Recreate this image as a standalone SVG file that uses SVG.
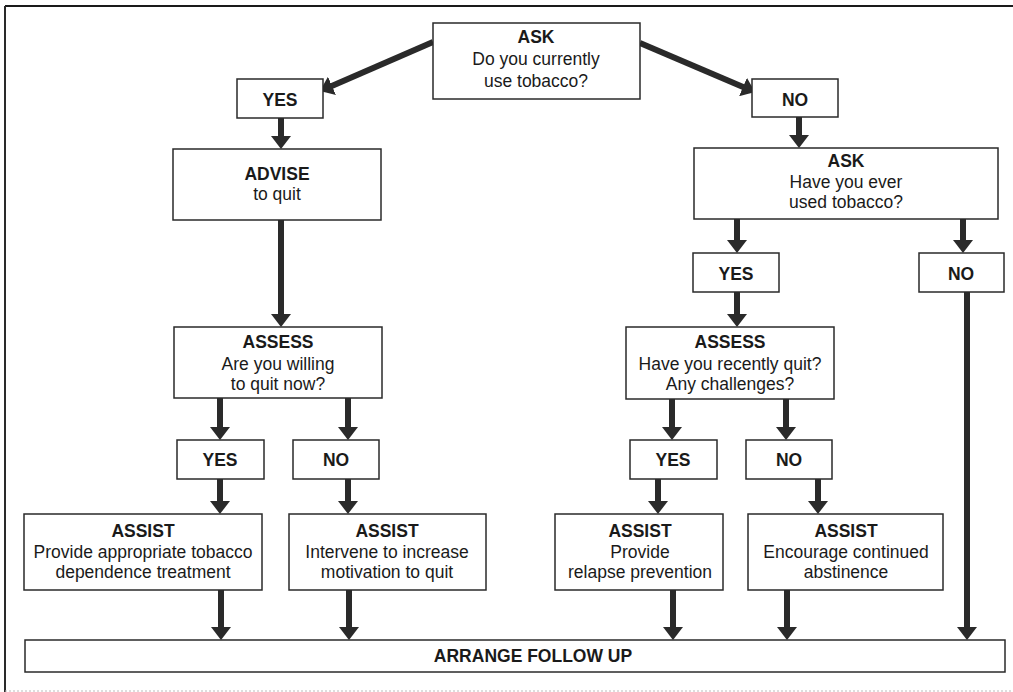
<svg xmlns="http://www.w3.org/2000/svg" width="1013" height="692" viewBox="0 0 1013 692">
<style>
.box{fill:#fff;stroke:#2a2a2a;stroke-width:1.5}
.t{font-family:"Liberation Sans",Arial,sans-serif;font-size:17.5px;fill:#1a1a1a;text-anchor:middle}
.b{font-weight:bold}
.arr{stroke:#2a2a2a;stroke-width:6;fill:none;marker-end:url(#ah)}
</style>
<defs>
<marker id="ah" viewBox="0 0 13 20" refX="9" refY="10" markerWidth="13" markerHeight="20" markerUnits="userSpaceOnUse" orient="auto">
<path d="M0,0 L13,10 L0,20 Z" fill="#2a2a2a"/>
</marker>
</defs>
<rect width="1013" height="692" fill="#fff"/>
<g id="frame">
<line x1="5" y1="6" x2="1013" y2="6" stroke="#1a1a1a" stroke-width="2"/>
<line x1="5" y1="6" x2="5" y2="692" stroke="#2a2a2a" stroke-width="2"/>
<line x1="5" y1="691" x2="1013" y2="691" stroke="#bbb" stroke-width="1" stroke-dasharray="2,2"/>
</g>
<g id="connectors">
<line class="arr" x1="433" y1="42" x2="323.7" y2="89.4"/>
<line class="arr" x1="640" y1="43" x2="751.3" y2="90.5"/>
<line class="arr" x1="281" y1="118" x2="281" y2="145"/>
<line class="arr" x1="281" y1="220" x2="281" y2="323"/>
<line class="arr" x1="799" y1="117" x2="799" y2="144"/>
<line class="arr" x1="220" y1="398" x2="220" y2="436"/>
<line class="arr" x1="348" y1="398" x2="348" y2="436"/>
<line class="arr" x1="220" y1="479" x2="220" y2="510"/>
<line class="arr" x1="348" y1="479" x2="348" y2="510"/>
<line class="arr" x1="737" y1="219" x2="737" y2="249"/>
<line class="arr" x1="963" y1="219" x2="963" y2="249"/>
<line class="arr" x1="737" y1="292" x2="737" y2="323"/>
<line class="arr" x1="672" y1="399" x2="672" y2="436"/>
<line class="arr" x1="786" y1="399" x2="786" y2="436"/>
<line class="arr" x1="658" y1="479" x2="658" y2="510"/>
<line class="arr" x1="818" y1="479" x2="818" y2="510"/>
<line class="arr" x1="221" y1="590" x2="221" y2="636"/>
<line class="arr" x1="349" y1="590" x2="349" y2="636"/>
<line class="arr" x1="673" y1="590" x2="673" y2="636"/>
<line class="arr" x1="787" y1="590" x2="787" y2="636"/>
<line class="arr" x1="967" y1="292" x2="967" y2="636"/>
</g>
<g id="ask1">
<rect class="box" x="433" y="23" width="207" height="76"/>
<text class="t b" x="536" y="43">ASK</text>
<text class="t" x="536" y="65">Do you currently</text>
<text class="t" x="536" y="87">use tobacco?</text>
</g>
<g id="yes1">
<rect class="box" x="237" y="79" width="86" height="39"/>
<text class="t b" x="280" y="106">YES</text>
</g>
<g id="no1">
<rect class="box" x="752" y="79" width="86" height="38"/>
<text class="t b" x="795" y="106">NO</text>
</g>
<g id="advise">
<rect class="box" x="173" y="149" width="208" height="71"/>
<text class="t b" x="277" y="180">ADVISE</text>
<text class="t" x="277" y="200">to quit</text>
</g>
<g id="ask2">
<rect class="box" x="694" y="148" width="304" height="71"/>
<text class="t b" x="846" y="167">ASK</text>
<text class="t" x="846" y="188">Have you ever</text>
<text class="t" x="846" y="208">used tobacco?</text>
</g>
<g id="yes2">
<rect class="box" x="693" y="253" width="86" height="39"/>
<text class="t b" x="736" y="280">YES</text>
</g>
<g id="no2">
<rect class="box" x="919" y="253" width="85" height="39"/>
<text class="t b" x="961" y="280">NO</text>
</g>
<g id="assess1">
<rect class="box" x="174" y="327" width="208" height="71"/>
<text class="t b" x="278" y="348">ASSESS</text>
<text class="t" x="278" y="370">Are you willing</text>
<text class="t" x="278" y="390">to quit now?</text>
</g>
<g id="assess2">
<rect class="box" x="626" y="327" width="208" height="72"/>
<text class="t b" x="730" y="348">ASSESS</text>
<text class="t" x="730" y="370">Have you recently quit?</text>
<text class="t" x="730" y="390">Any challenges?</text>
</g>
<g id="yes3">
<rect class="box" x="177" y="440" width="87" height="39"/>
<text class="t b" x="220" y="466">YES</text>
</g>
<g id="no3">
<rect class="box" x="293" y="440" width="86" height="39"/>
<text class="t b" x="336" y="466">NO</text>
</g>
<g id="yes4">
<rect class="box" x="630" y="440" width="87" height="39"/>
<text class="t b" x="673" y="466">YES</text>
</g>
<g id="no4">
<rect class="box" x="746" y="440" width="86" height="39"/>
<text class="t b" x="789" y="466">NO</text>
</g>
<g id="assist1">
<rect class="box" x="24" y="514" width="238" height="76"/>
<text class="t b" x="143" y="537">ASSIST</text>
<text class="t" x="143" y="558">Provide appropriate tobacco</text>
<text class="t" x="143" y="578">dependence treatment</text>
</g>
<g id="assist2">
<rect class="box" x="289" y="514" width="197" height="76"/>
<text class="t b" x="387" y="537">ASSIST</text>
<text class="t" x="387" y="558">Intervene to increase</text>
<text class="t" x="387" y="578">motivation to quit</text>
</g>
<g id="assist3">
<rect class="box" x="555" y="514" width="168" height="76"/>
<text class="t b" x="640" y="537">ASSIST</text>
<text class="t" x="640" y="558">Provide</text>
<text class="t" x="640" y="578">relapse prevention</text>
</g>
<g id="assist4">
<rect class="box" x="748" y="514" width="195" height="76"/>
<text class="t b" x="846" y="537">ASSIST</text>
<text class="t" x="846" y="558">Encourage continued</text>
<text class="t" x="846" y="578">abstinence</text>
</g>
<g id="followup">
<rect class="box" x="25" y="640" width="980" height="32"/>
<text class="t b" x="533" y="662">ARRANGE FOLLOW UP</text>
</g>
</svg>
